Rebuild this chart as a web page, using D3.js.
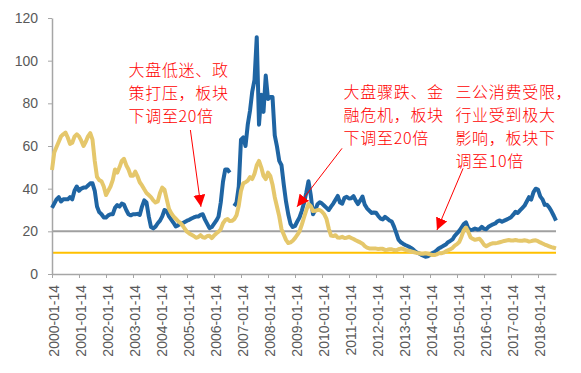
<!DOCTYPE html>
<html>
<head>
<meta charset="utf-8">
<script src="https://cdn.jsdelivr.net/npm/d3@7"></script>
<style>
  body { margin: 0; background: #fff; }
  svg { display: block; }
</style>
</head>
<body>
<div id="chart"></div>
<script>
// monthly readings, first point = 2000-01-14
const tickLabels = ["2000-01-14","2001-01-14","2002-01-14","2003-01-14","2004-01-14","2005-01-14",
  "2006-01-14","2007-01-14","2008-01-14","2009-01-14","2010-01-14","2011-01-14","2012-01-14",
  "2013-01-14","2014-01-14","2015-01-14","2016-01-14","2017-01-14","2018-01-14"];

const blueSeries = [
  31, 33, 35, 36, 34, 35, 35, 35, 36, 35,
  39, 41, 39, 40, 40.5, 40.5, 41.5, 42.5, 42.5, 39,
  31.6, 29, 28, 26.5, 26.5, 27.5, 28, 28, 31, 32.3,
  31.6, 33, 32.5, 30, 28, 27.5, 28, 28, 28.2, 27.7,
  31.6, 34.5, 33.5, 27, 22, 21.4, 22.2, 23.8, 25, 27,
  30, 29.5, 27, 25.5, 24, 22.3, 22.8, 23.4, 23.8, 24.4,
  25, 25.4, 26, 26.5, 26.9, 26.9, 27.7, 28, 25.5, 23.5,
  21.5, 22, 23.5, 25, 26.9, 33.5, 43.3, 49, 49, 47.5,
  null, 31.8, 33.5, 41, 63, 64, 60, 70, 76.5, 85.5,
  91, 111, 70, 84, 76, 93, 82, 83, 83, 65,
  59.7, 53, 51, 42, 34, 28, 23.5, 22, 22.5, 24.6,
  26.5, 29.5, 33.3, 38, 43.5, 37, 28, 30, 32.7, 33.6,
  33, 32, 31, 30, 31.6, 33, 34.8, 36.6, 33.5, 33,
  35.7, 36.2, 35.4, 35.5, 36.5, 34.4, 32.8, 34.5, 36.3, 32.5,
  30.8, 29.7, 28.6, 28.8, 28.7, 27.2, 26, 25.6, 26.8, 26,
  25.1, 24.6, 22.2, 19.3, 16.1, 14.9, 14.2, 13.6, 13.1, 12.6,
  12, 11, 10.2, 9.7, 9.1, 8.6, 8.1, 8.3, 8.9, 9.8,
  10.3, 11.1, 12.1, 12.6, 13.2, 13.8, 14.9, 15.5, 16.2, 17.9,
  19, 20.2, 21.8, 23.4, 24.2, 21.4, 20.6, 20.8, 21.3, 20.9,
  21, 22.1, 21.2, 21, 22.1, 22.7, 23.3, 23.7, 24.7, 25.1,
  24.5, 25, 25.5, 26, 26.6, 27.8, 29.2, 28.6, 29.8, 30.9,
  32, 34, 36, 34.9, 38.4, 40, 39.6, 36.4, 35, 32.4,
  32.5, 31.2, 29.4, 27.3, 25
];

const goldSeries = [
  48.7, 57, 59.5, 62, 64.5, 65.5, 66.3, 64, 61, 61.5,
  64.4, 65.5, 64.5, 62.5, 60, 62, 64.5, 66, 63, 53,
  45.5, 44, 43.5, 41, 37, 39, 41, 44, 49, 47.5,
  50, 53, 54, 51, 49, 46, 46, 48, 45.8, 43,
  41.5, 39.7, 38, 37, 36, 34.5, 33.5, 34, 38, 40.5,
  39.5, 35, 30.5, 28.5, 27, 25.9, 24.8, 24, 22.8, 21.2,
  19.8, 19, 18.4, 17.8, 17, 17.3, 18.2, 17.2, 17, 17.8,
  17.9, 16.8, 18, 19, 19.8, 21, 23.8, 25.3, 25.8, 24.8,
  24.9, 25.7, 27.5, 32, 39, 42.5, 43, 43.8, 45.4, 44.5,
  47, 51, 53, 50, 46, 44.5, 47.5, 46, 42, 36,
  31.5, 27, 21, 18.5, 16, 14.5, 14.8, 15.6, 16.8, 18.3,
  20, 23, 26.5, 29.8, 32.8, 31.8, 29.5, 29.6, 30, 30,
  29.2, 28, 25.8, 21.3, 18, 17.8, 18.2, 17.1, 17, 17.4,
  16.9, 17, 17.4, 16.9, 16.4, 15.8, 15.3, 14.8, 14.2, 13.1,
  12.4, 12, 12, 12, 11.9, 11.7, 11.8, 11.8, 11.3, 11.4,
  11.6, 11.6, 11.2, 11.1, 11.6, 11.9, 11.8, 11.3, 11, 10.8,
  10.5, 10.2, 9.9, 9.7, 9.5, 9.5, 9.7, 9.5, 9.2, 8.9,
  8.9, 9.2, 9.7, 9.7, 10, 10.6, 11.1, 11.6, 12.2, 13.3,
  14, 15, 17.5, 20.5, 21.8, 19.8, 17.2, 16.5, 16, 16.3,
  16.5, 15.3, 13.7, 13, 13.6, 14.1, 14.4, 14.4, 14.6, 14.9,
  15.2, 15.5, 15.7, 15.9, 15.7, 15.7, 15.9, 15.7, 15.6, 15.6,
  15.8, 15.6, 15.2, 15.4, 15.7, 15.8, 15.4, 14.8, 14.3, 13.8,
  13.4, 13, 12.6, 12.3, 12
];

const yTicks = [0, 20, 40, 60, 80, 100, 120];
const grayLevel = 20;
const goldLevel = 10;

// text block + arrow, in [month index, value]
const notes = [
  { lines: ["大盘低迷、政", "策打压，板块", "下调至20倍"], at: [34, 92.6], from: [61.5, 67.5], to: [66.2, 31.5] },
  { lines: ["大盘骤跌、金", "融危机，板块", "下调至20倍"], at: [129.6, 82.3], from: [128.9, 58.9], to: [108.9, 31.5] },
  { lines: ["三公消费受限，", "行业受到极大", "影响，板块下", "调至10倍"], at: [179.3, 82.6], from: [182.7, 49.5], to: [171.1, 20.6] }
];

const w = 581, h = 373;
const m = { left: 52, right: 556, top: 18, bottom: 274 };
const axisFont = "Arial, 'Liberation Sans', sans-serif";

const svg = d3.select("#chart").append("svg")
  .attr("width", w).attr("height", h);

const x = d3.scaleLinear().domain([0, blueSeries.length - 1]).range([m.left, m.right]);
const y = d3.scaleLinear().domain([0, 120]).range([m.bottom, m.top]);

svg.append("defs").append("marker")
  .attr("id", "head")
  .attr("viewBox", "0 0 12 12")
  .attr("refX", 12).attr("refY", 6)
  .attr("markerWidth", 12).attr("markerHeight", 12)
  .attr("markerUnits", "userSpaceOnUse")
  .attr("orient", "auto")
  .append("path").attr("d", "M0,0L12,6L0,12Z").attr("fill", "#ff0000");

// reference lines
svg.append("line")
  .attr("x1", m.left).attr("x2", m.right)
  .attr("y1", y(grayLevel)).attr("y2", y(grayLevel))
  .attr("stroke", "#a0a0a0").attr("stroke-width", 2);
svg.append("line")
  .attr("x1", m.left).attr("x2", m.right)
  .attr("y1", y(goldLevel)).attr("y2", y(goldLevel))
  .attr("stroke", "#ffc000").attr("stroke-width", 2);

// axes
const yAxis = d3.axisLeft(y).tickValues(yTicks).tickSize(4).tickSizeOuter(0).tickPadding(10);
const gy = svg.append("g").attr("transform", `translate(${m.left},0)`).call(yAxis);
gy.select(".domain").attr("stroke", "#a6a6a6").attr("stroke-width", 1.5);
gy.selectAll(".tick line").attr("stroke", "#a6a6a6");
gy.selectAll("text").style("font-family", axisFont).style("font-size", "14px").attr("fill", "#595959");

const xTicks = tickLabels.map((d, i) => i * 12);
const xAxis = d3.axisBottom(x).tickValues(xTicks).tickFormat((d, i) => tickLabels[i]).tickSize(4).tickSizeOuter(0);
const gx = svg.append("g").attr("transform", `translate(0,${m.bottom})`).call(xAxis);
gx.select(".domain").attr("stroke", "#a6a6a6").attr("stroke-width", 1.5);
gx.selectAll(".tick line").attr("stroke", "#a6a6a6");
gx.selectAll("text")
  .attr("transform", "rotate(-90)")
  .attr("text-anchor", "end")
  .attr("x", -11).attr("y", 1.5).attr("dy", "0.35em")
  .style("font-family", axisFont).style("font-size", "14px").attr("fill", "#595959");

// series
const line = d3.line()
  .defined(d => d != null)
  .x((d, i) => x(i))
  .y(d => y(d));

svg.append("path").datum(blueSeries)
  .attr("d", line)
  .attr("fill", "none").attr("stroke", "#1f65a3").attr("stroke-width", 4)
  .attr("stroke-linejoin", "round");

svg.append("path").datum(goldSeries)
  .attr("d", line)
  .attr("fill", "none").attr("stroke", "#e5c76b").attr("stroke-width", 4)
  .attr("stroke-linejoin", "round");

// annotations
notes.forEach(n => {
  const t = svg.append("text")
    .attr("x", x(n.at[0])).attr("y", y(n.at[1]))
    .style("font-family", "'Noto Sans CJK SC', sans-serif")
    .style("font-size", "16px")
    .style("font-weight", 300)
    .style("letter-spacing", "0.7px")
    .attr("fill", "#ff0000");
  n.lines.forEach((s, i) => {
    t.append("tspan").attr("x", x(n.at[0])).attr("dy", i === 0 ? 0 : 23).text(s);
  });
  svg.append("line")
    .attr("x1", x(n.from[0])).attr("y1", y(n.from[1]))
    .attr("x2", x(n.to[0])).attr("y2", y(n.to[1]))
    .attr("stroke", "#ff0000").attr("stroke-width", 1)
    .attr("marker-end", "url(#head)");
});
</script>
</body>
</html>
